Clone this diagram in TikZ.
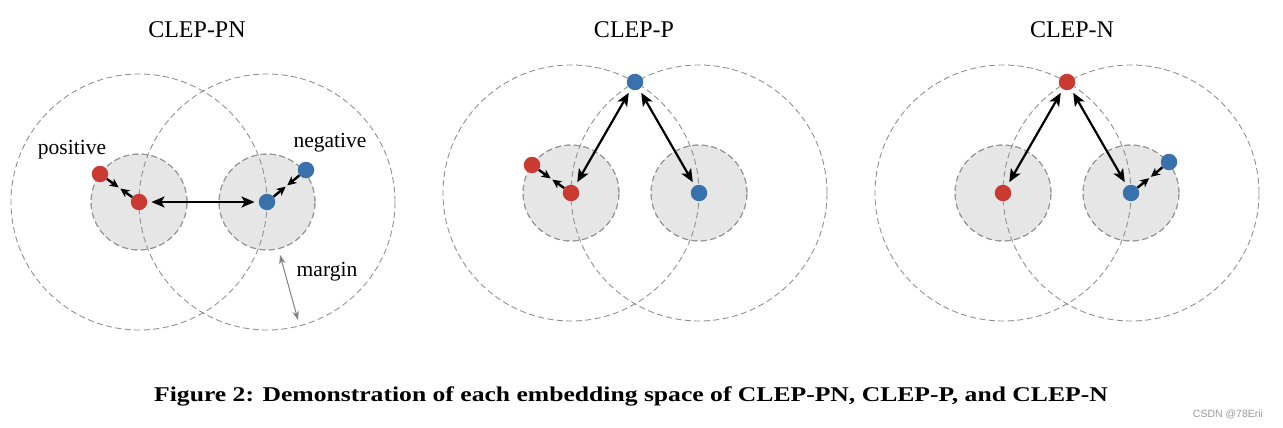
\documentclass[tikz,border=0pt]{standalone}
\usepackage{fontspec}
\setmainfont{Liberation Serif}
\setsansfont{Liberation Sans}
\usetikzlibrary{calc,arrows.meta}
\definecolor{dotred}{RGB}{200,58,50}
\definecolor{dotblue}{RGB}{56,113,172}
\definecolor{zonegray}{RGB}{230,230,230}
\definecolor{dashgray}{RGB}{145,145,145}
\tikzset{
  bigring/.style={draw=dashgray,line width=0.9pt,dash pattern=on 6pt off 3.5pt},
  smallzone/.style={fill=zonegray,draw=dashgray,line width=0.9pt,dash pattern=on 6pt off 3.5pt},
  reddot/.style={circle,fill=dotred,inner sep=0pt,minimum size=16.5pt},
  bluedot/.style={circle,fill=dotblue,inner sep=0pt,minimum size=16.5pt},
  dbl/.style={{Stealth[length=13pt,width=11pt,inset=3pt]}-{Stealth[length=13pt,width=11pt,inset=3pt]},line width=2.2pt,shorten <=4pt,shorten >=4pt},
  pull/.style={-{Stealth[length=9pt,width=8.5pt,inset=2.5pt]},line width=2.4pt,shorten >=1pt},
  marg/.style={{Stealth[length=9pt,width=6.5pt]}-{Stealth[length=9pt,width=6.5pt]},draw=gray,line width=1pt},
  ttl/.style={font=\fontsize{24}{28}\selectfont},
  lbl/.style={font=\fontsize{21.5}{25}\selectfont},
}
\begin{document}
\begin{tikzpicture}[x=1pt,y=-1pt]
\useasboundingbox (0,0) rectangle (1283,428);
% ---------- Panel 1: CLEP-PN ----------
\fill[smallzone] (139,202) circle[radius=48pt];
\fill[smallzone] (267,202) circle[radius=48pt];
\draw[bigring] (139,202) circle[radius=128pt];
\draw[bigring] (267,202) circle[radius=128pt];
\draw[smallzone,fill=none] (139,202) circle[radius=48pt];
\draw[smallzone,fill=none] (267,202) circle[radius=48pt];
\node[ttl] (t1) at (197,30) {CLEP-PN};
\node[reddot] (a1) at (139,202) {};
\node[bluedot] (b1) at (267,202) {};
\node[reddot] (p1) at (100,174) {};
\node[bluedot] (n1) at (306,170) {};
\node[lbl] (lp) at (72,150) {positive};
\node[lbl] (ln) at (330,143) {negative};
\node[lbl] (lm) at (327,272) {margin};
\coordinate (m1) at ($(p1)!0.5!(a1)$);
\coordinate (m2) at ($(n1)!0.5!(b1)$);
\draw[pull] (p1) -- (m1);
\draw[pull] (a1) -- (m1);
\draw[pull] (n1) -- (m2);
\draw[pull] (b1) -- (m2);
\draw[dbl] (a1) -- (b1);
\coordinate (mg1) at (280,255);
\coordinate (mg2) at (298,320);
\draw[marg] (mg1) -- (mg2);
% ---------- Panel 2: CLEP-P ----------
\fill[smallzone] (571,193) circle[radius=48pt];
\fill[smallzone] (699,193) circle[radius=48pt];
\draw[bigring] (571,193) circle[radius=128pt];
\draw[bigring] (699,193) circle[radius=128pt];
\draw[smallzone,fill=none] (571,193) circle[radius=48pt];
\draw[smallzone,fill=none] (699,193) circle[radius=48pt];
\node[ttl] (t2) at (634,30) {CLEP-P};
\node[reddot] (a2) at (571,193) {};
\node[bluedot] (b2) at (699,193) {};
\node[bluedot] (c2) at (635,82) {};
\node[reddot] (p2) at (532,165) {};
\coordinate (m3) at ($(p2)!0.5!(a2)$);
\draw[pull] (p2) -- (m3);
\draw[pull] (a2) -- (m3);
\draw[dbl] (c2) -- (a2);
\draw[dbl] (c2) -- (b2);
% ---------- Panel 3: CLEP-N ----------
\fill[smallzone] (1003,193) circle[radius=48pt];
\fill[smallzone] (1131,193) circle[radius=48pt];
\draw[bigring] (1003,193) circle[radius=128pt];
\draw[bigring] (1131,193) circle[radius=128pt];
\draw[smallzone,fill=none] (1003,193) circle[radius=48pt];
\draw[smallzone,fill=none] (1131,193) circle[radius=48pt];
\node[ttl] (t3) at (1072,30) {CLEP-N};
\node[reddot] (a3) at (1003,193) {};
\node[bluedot] (b3) at (1131,193) {};
\node[reddot] (c3) at (1067,82) {};
\node[bluedot] (n3) at (1169,162) {};
\coordinate (m4) at ($(n3)!0.5!(b3)$);
\draw[pull] (n3) -- (m4);
\draw[pull] (b3) -- (m4);
\draw[dbl] (c3) -- (a3);
\draw[dbl] (c3) -- (b3);
% ---------- Caption ----------
\node[font=\fontsize{21}{25}\selectfont\bfseries] (cap) at (631,396) {\scalebox{1.22}[1]{Figure 2: Demonstration of each embedding space of CLEP-PN, CLEP-P, and CLEP-N}};
\node[font=\sffamily\fontsize{10.5}{12}\selectfont,text=gray!80] (wm) at (1228,414) {CSDN @78Erii};
\end{tikzpicture}
\end{document}
